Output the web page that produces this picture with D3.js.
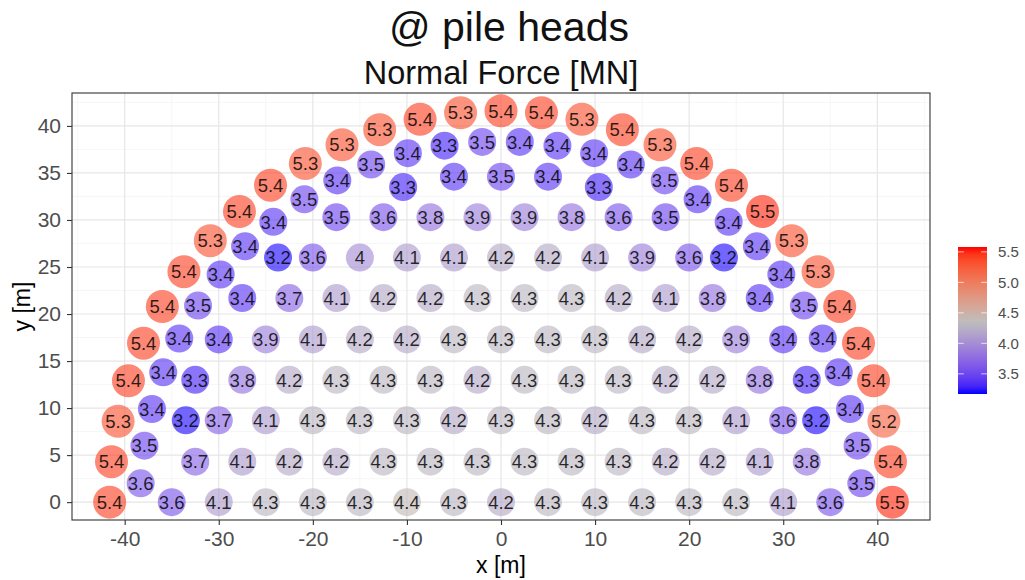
<!DOCTYPE html>
<html>
<head>
    <meta charset="utf-8">
    <title>Normal Force at pile heads</title>
    <script src="https://d3js.org/d3.v7.min.js"></script>
    <style>
        body { margin: 0; background: #fff; }
        text { font-family: "Liberation Sans", Arial, sans-serif; }
    </style>
</head>
<body>
<svg width="1025" height="580"></svg>
<script>
    // outer ring of piles, west to east (x, y in m, normal force in MN)
    const ring1X = [-41.6, -41.4, -40.7, -39.6, -38.0, -36.0, -33.7, -30.9, -27.8, -24.5, -20.8, -16.9, -12.9, -8.6, -4.3, 0,
        4.3, 8.6, 12.9, 16.9, 20.8, 24.5, 27.8, 30.9, 33.7, 36.0, 38.0, 39.6, 40.7, 41.4, 41.6];
    const ring1Y = [0, 4.3, 8.6, 12.9, 16.9, 20.8, 24.5, 27.8, 30.9, 33.7, 36.0, 38.0, 39.6, 40.7, 41.4, 41.6,
        41.4, 40.7, 39.6, 38.0, 36.0, 33.7, 30.9, 27.8, 24.5, 20.8, 16.9, 12.9, 8.6, 4.3, 0];
    const ring1N = [5.4, 5.4, 5.3, 5.4, 5.4, 5.4, 5.4, 5.3, 5.4, 5.4, 5.3, 5.3, 5.3, 5.4, 5.3, 5.4,
        5.4, 5.3, 5.4, 5.3, 5.4, 5.4, 5.5, 5.3, 5.3, 5.4, 5.4, 5.4, 5.2, 5.4, 5.5];

    // second ring
    const ring2X = [-38.3, -37.9, -37.1, -35.9, -34.2, -32.2, -29.8, -27.2, -24.2, -20.9, -17.4, -13.8, -9.9, -6.0, -2.0,
        2.0, 6.0, 9.9, 13.8, 17.4, 20.9, 24.2, 27.2, 29.8, 32.2, 34.2, 35.9, 37.1, 37.9, 38.3];
    const ring2Y = [2.0, 6.0, 9.9, 13.8, 17.4, 20.9, 24.2, 27.2, 29.8, 32.2, 34.2, 35.9, 37.1, 37.9, 38.3,
        38.3, 37.9, 37.1, 35.9, 34.2, 32.2, 29.8, 27.2, 24.2, 20.9, 17.4, 13.8, 9.9, 6.0, 2.0];
    const ring2N = [3.6, 3.5, 3.4, 3.4, 3.4, 3.5, 3.4, 3.4, 3.4, 3.5, 3.4, 3.5, 3.4, 3.3, 3.5,
        3.4, 3.4, 3.4, 3.4, 3.5, 3.4, 3.4, 3.4, 3.4, 3.5, 3.4, 3.4, 3.4, 3.5, 3.5];

    // inner piles, row by row
    const rowY = [0, 4.3, 8.7, 13.0, 17.3, 21.7, 26.0, 30.3, 34.6, 33.5];
    const rowX = [
        [-35, -30, -25, -20, -15, -10, -5, 0, 5, 10, 15, 20, 25, 30, 35],
        [-32.5, -27.5, -22.5, -17.5, -12.5, -7.5, -2.5, 2.5, 7.5, 12.5, 17.5, 22.5, 27.5, 32.5],
        [-33.5, -30, -25, -20, -15, -10, -5, 0, 5, 10, 15, 20, 25, 30, 33.5],
        [-32.5, -27.5, -22.5, -17.5, -12.5, -7.5, -2.5, 2.5, 7.5, 12.5, 17.5, 22.5, 27.5, 32.5],
        [-30, -25, -20, -15, -10, -5, 0, 5, 10, 15, 20, 25, 30],
        [-27.5, -22.5, -17.5, -12.5, -7.5, -2.5, 2.5, 7.5, 12.5, 17.5, 22.5, 27.5],
        [-23.7, -20, -15, -10, -5, 0, 5, 10, 15, 20, 23.7],
        [-17.5, -12.5, -7.5, -2.5, 2.5, 7.5, 12.5, 17.5],
        [-5, 0, 5],
        [-10.4, 10.4]
    ];
    const rowN = [
        [3.6, 4.1, 4.3, 4.3, 4.3, 4.4, 4.3, 4.2, 4.3, 4.3, 4.3, 4.3, 4.3, 4.1, 3.6],
        [3.7, 4.1, 4.2, 4.2, 4.3, 4.3, 4.3, 4.3, 4.3, 4.3, 4.2, 4.2, 4.1, 3.8],
        [3.2, 3.7, 4.1, 4.3, 4.3, 4.3, 4.2, 4.3, 4.3, 4.2, 4.3, 4.3, 4.1, 3.6, 3.2],
        [3.3, 3.8, 4.2, 4.3, 4.3, 4.3, 4.2, 4.3, 4.3, 4.3, 4.2, 4.2, 3.8, 3.3],
        [3.4, 3.9, 4.1, 4.2, 4.2, 4.3, 4.3, 4.3, 4.3, 4.2, 4.2, 3.9, 3.4],
        [3.4, 3.7, 4.1, 4.2, 4.2, 4.3, 4.3, 4.3, 4.2, 4.1, 3.8, 3.4],
        [3.2, 3.6, 4, 4.1, 4.1, 4.2, 4.2, 4.1, 3.9, 3.6, 3.2],
        [3.5, 3.6, 3.8, 3.9, 3.9, 3.8, 3.6, 3.5],
        [3.4, 3.5, 3.4],
        [3.3, 3.3]
    ];

    const xTicks = [-40, -30, -20, -10, 0, 10, 20, 30, 40];
    const yTicks = [0, 5, 10, 15, 20, 25, 30, 35, 40];
    const legendTicks = [3.5, 4.0, 4.5, 5.0, 5.5];
    const colourLimits = [3.17, 4.35, 5.58]; // low, mid, high

    const width = 1025;
    const height = 580;
    const panel = {left: 72, right: 930, top: 93, bottom: 520};

    const svg = d3.select("svg")
        .attr("width", width)
        .attr("height", height);

    const x = d3.scaleLinear().domain([-45.6, 45.6]).range([panel.left, panel.right]);
    const y = d3.scaleLinear().domain([-1.9, 43.5]).range([panel.bottom, panel.top]);

    const colour = d3.scaleLinear()
        .domain(colourLimits)
        .range(["#0000ff", "#bebebe", "#ff0000"])
        .interpolate(d3.interpolateLab)
        .clamp(true);

    // collect all piles
    const piles = [];
    ring1N.forEach((n, i) => piles.push({x: ring1X[i], y: ring1Y[i], n: n, r: 16.5}));
    ring2N.forEach((n, i) => piles.push({x: ring2X[i], y: ring2Y[i], n: n, r: 14}));
    rowN.forEach((row, j) => row.forEach((n, i) => piles.push({x: rowX[j][i], y: rowY[j], n: n, r: 14})));

    // panel background and grid
    svg.append("rect")
        .attr("x", panel.left).attr("y", panel.top)
        .attr("width", panel.right - panel.left).attr("height", panel.bottom - panel.top)
        .attr("fill", "#fff");

    const grid = svg.append("g");
    const xMinor = d3.range(-45, 46, 10);
    const yMinor = d3.range(2.5, 43.5, 5);
    grid.selectAll(".xminor").data(xMinor).enter().append("line")
        .attr("x1", d => x(d)).attr("x2", d => x(d))
        .attr("y1", panel.top).attr("y2", panel.bottom)
        .attr("stroke", "#f2f2f2").attr("stroke-width", 0.7);
    grid.selectAll(".yminor").data(yMinor).enter().append("line")
        .attr("x1", panel.left).attr("x2", panel.right)
        .attr("y1", d => y(d)).attr("y2", d => y(d))
        .attr("stroke", "#f2f2f2").attr("stroke-width", 0.7);
    grid.selectAll(".xmajor").data(xTicks).enter().append("line")
        .attr("x1", d => x(d)).attr("x2", d => x(d))
        .attr("y1", panel.top).attr("y2", panel.bottom)
        .attr("stroke", "#e6e6e6").attr("stroke-width", 1.2);
    grid.selectAll(".ymajor").data(yTicks).enter().append("line")
        .attr("x1", panel.left).attr("x2", panel.right)
        .attr("y1", d => y(d)).attr("y2", d => y(d))
        .attr("stroke", "#e6e6e6").attr("stroke-width", 1.2);

    // piles
    svg.append("g").selectAll("circle")
        .data(piles)
        .enter().append("circle")
        .attr("cx", d => x(d.x))
        .attr("cy", d => y(d.y))
        .attr("r", d => d.r)
        .attr("fill", d => colour(d.n))
        .attr("fill-opacity", 0.63);

    svg.append("g").selectAll("text")
        .data(piles)
        .enter().append("text")
        .attr("x", d => x(d.x))
        .attr("y", d => y(d.y))
        .attr("dy", "0.36em")
        .attr("text-anchor", "middle")
        .style("font-size", "18.5px")
        .attr("fill", "#000")
        .attr("fill-opacity", 0.82)
        .text(d => String(d.n));

    // panel border
    svg.append("rect")
        .attr("x", panel.left).attr("y", panel.top)
        .attr("width", panel.right - panel.left).attr("height", panel.bottom - panel.top)
        .attr("fill", "none").attr("stroke", "#333").attr("stroke-width", 1.1);

    // axes
    const xAxis = svg.append("g")
        .attr("transform", "translate(0," + panel.bottom + ")")
        .call(d3.axisBottom(x).tickValues(xTicks).tickFormat(d => String(d)).tickSize(5).tickPadding(6));
    const yAxis = svg.append("g")
        .attr("transform", "translate(" + panel.left + ",0)")
        .call(d3.axisLeft(y).tickValues(yTicks).tickFormat(d => String(d)).tickSize(5).tickPadding(6));
    [xAxis, yAxis].forEach(a => {
        a.select(".domain").remove();
        a.selectAll("line").attr("stroke", "#333").attr("stroke-width", 1.1);
        a.selectAll("text")
            .attr("fill", "#4d4d4d")
            .style("font-size", "21px")
            .style("font-family", "'Liberation Sans', Arial, sans-serif");
    });

    svg.append("text")
        .attr("x", (panel.left + panel.right) / 2)
        .attr("y", 573)
        .attr("text-anchor", "middle")
        .style("font-size", "23px")
        .text("x [m]");

    svg.append("text")
        .attr("transform", "translate(30," + (panel.top + panel.bottom) / 2 + ") rotate(-90)")
        .attr("text-anchor", "middle")
        .style("font-size", "23px")
        .text("y [m]");

    // titles
    svg.append("text")
        .attr("x", 509)
        .attr("y", 41)
        .attr("text-anchor", "middle")
        .style("font-size", "41px")
        .attr("fill", "#111")
        .text("@ pile heads");

    svg.append("text")
        .attr("x", (panel.left + panel.right) / 2)
        .attr("y", 84)
        .attr("text-anchor", "middle")
        .style("font-size", "32.5px")
        .attr("fill", "#111")
        .text("Normal Force [MN]");

    // colour bar legend
    const bar = {x: 958, w: 29, top: 247, bottom: 394};
    const legendY = d3.scaleLinear().domain([colourLimits[0], colourLimits[2]]).range([bar.bottom, bar.top]);

    const grad = svg.append("defs").append("linearGradient")
        .attr("id", "nf-grad")
        .attr("x1", 0).attr("y1", 1).attr("x2", 0).attr("y2", 0);
    d3.range(0, 1.0001, 0.05).forEach(t => {
        const v = colourLimits[0] + t * (colourLimits[2] - colourLimits[0]);
        grad.append("stop").attr("offset", t).attr("stop-color", colour(v));
    });

    svg.append("rect")
        .attr("x", bar.x).attr("y", bar.top)
        .attr("width", bar.w).attr("height", bar.bottom - bar.top)
        .attr("fill", "url(#nf-grad)");

    const lg = svg.append("g");
    lg.selectAll(".tl").data(legendTicks).enter().append("line")
        .attr("x1", bar.x).attr("x2", bar.x + 5.8)
        .attr("y1", d => legendY(d)).attr("y2", d => legendY(d))
        .attr("stroke", "#fff").attr("stroke-opacity", 0.7);
    lg.selectAll(".tr").data(legendTicks).enter().append("line")
        .attr("x1", bar.x + bar.w - 5.8).attr("x2", bar.x + bar.w)
        .attr("y1", d => legendY(d)).attr("y2", d => legendY(d))
        .attr("stroke", "#fff").attr("stroke-opacity", 0.7);
    lg.selectAll("text").data(legendTicks).enter().append("text")
        .attr("x", 998)
        .attr("y", d => legendY(d))
        .attr("dy", "0.36em")
        .style("font-size", "15px")
        .attr("fill", "#4d4d4d")
        .text(d => d.toFixed(1));
</script>
</body>
</html>
